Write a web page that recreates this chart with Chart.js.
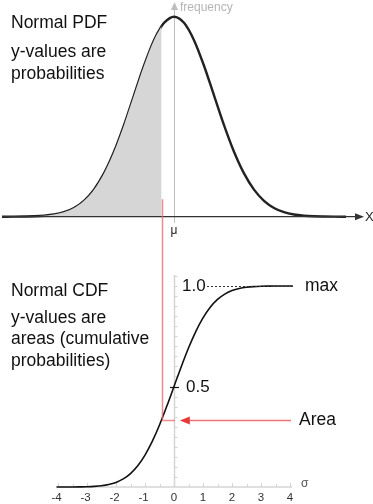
<!DOCTYPE html>
<html>
<head>
<meta charset="utf-8">
<script src="https://cdn.jsdelivr.net/npm/chart.js@4/dist/chart.umd.min.js"></script>
<style>
html,body{margin:0;padding:0;background:#fff;}
#wrap{position:relative;width:373px;height:504px;}
</style>
</head>
<body>
<div id="wrap"><canvas id="c"></canvas></div>
<script>
// ---- data ----
// Top panel: normal PDF (x in sigma units of the top panel)
const pdfX = [-4.3,-4,-3.75,-3.5,-3.25,-3,-2.75,-2.5,-2.25,-2,-1.75,-1.5,-1.25,-1,-0.75,-0.5,-0.31,-0.25,0,0.25,0.5,0.75,1,1.25,1.5,1.75,2,2.25,2.5,2.75,3,3.25,3.5,3.75,4,4.3];
const pdfY = [0,0.0001,0.0004,0.0009,0.0020,0.0044,0.0091,0.0175,0.0317,0.0540,0.0863,0.1295,0.1826,0.2420,0.3011,0.3521,0.3802,0.3867,0.3989,0.3867,0.3521,0.3011,0.2420,0.1826,0.1295,0.0863,0.0540,0.0317,0.0175,0.0091,0.0044,0.0020,0.0009,0.0004,0.0001,0];
const shadeLimit = -0.31;
// Bottom panel: normal CDF
const cdfX = [-4.05,-3.75,-3.5,-3.25,-3,-2.75,-2.5,-2.25,-2,-1.75,-1.5,-1.25,-1,-0.75,-0.5,-0.25,0,0.25,0.5,0.75,1,1.25,1.5,1.75,2,2.25,2.5,2.75,3,3.25,3.5,3.75,4.1];
const cdfY = [0,0.0001,0.0002,0.0006,0.0013,0.0030,0.0062,0.0122,0.0228,0.0401,0.0668,0.1056,0.1587,0.2266,0.3085,0.4013,0.5,0.5987,0.6915,0.7734,0.8413,0.8944,0.9332,0.9599,0.9772,0.9878,0.9938,0.9970,0.9987,0.9994,0.9998,0.9999,1.0];
const xTickLabels = ['-4','-3','-2','-1','0','1','2','3','4'];
const xTickValues = [-4,-3,-2,-1,0,1,2,3,4];
const yLabels = ['1.0','0.5'];
const yLabelValues = [1.0,0.5];
const markX = -0.43;      // red line position
const areaValue = 0.334;  // CDF value at markX
const redTopPdf = 0.035;  // where red line starts in the top panel

const pdfPts = pdfX.map((x,i)=>({x, y:pdfY[i]}));
const shadePts = pdfPts.filter(p=>p.x<=shadeLimit);
const cdfPts = cdfX.map((x,i)=>({x, y:cdfY[i]}));

const FONT = '"Liberation Sans", Arial, Helvetica, sans-serif';
const BIG = '17.5px ' + FONT;

const overlay = {
  id:'overlay',
  beforeDatasetsDraw(chart){
    const ctx = chart.ctx, s = chart.scales;
    const x = s.x, xt = s.xTop, yp = s.yPdf, yc = s.yCdf;
    ctx.save();
    // bottom x axis (light gray)
    const y0 = yc.getPixelForValue(0);
    ctx.strokeStyle = '#d4d4d4'; ctx.lineWidth = 1.5;
    ctx.beginPath(); ctx.moveTo(x.getPixelForValue(-4.05), y0); ctx.lineTo(x.getPixelForValue(4.07), y0); ctx.stroke();
    ctx.lineWidth = 1;
    for (let v=-4; v<=4.001; v+=0.5){
      const px = Math.round(x.getPixelForValue(v))+0.5;
      ctx.beginPath(); ctx.moveTo(px, y0); ctx.lineTo(px, y0 - (Number.isInteger(v)?4:3)); ctx.stroke();
    }
    // bottom y axis
    const ax = x.getPixelForValue(0)+0.5;
    ctx.lineWidth = 1.5;
    ctx.beginPath(); ctx.moveTo(ax, y0); ctx.lineTo(ax, yc.getPixelForValue(1.055)); ctx.stroke();
    ctx.lineWidth = 1;
    for (let v=0.05; v<=1.051; v+=0.05){
      const py = Math.round(yc.getPixelForValue(v))+0.5;
      ctx.beginPath(); ctx.moveTo(ax, py); ctx.lineTo(ax+3, py); ctx.stroke();
    }
    // top: mean line with arrow
    const mx = Math.round(xt.getPixelForValue(0))+0.5;
    const ypz = yp.getPixelForValue(0);
    ctx.strokeStyle = '#bdbdbd'; ctx.fillStyle = '#bdbdbd'; ctx.lineWidth = 1;
    ctx.beginPath(); ctx.moveTo(mx, 8); ctx.lineTo(mx, ypz+6); ctx.stroke();
    ctx.beginPath(); ctx.moveTo(mx, 2); ctx.lineTo(mx-3.5, 10); ctx.lineTo(mx+3.5, 10); ctx.closePath(); ctx.fill();
    ctx.restore();
  },
  afterDatasetsDraw(chart){
    const ctx = chart.ctx, s = chart.scales;
    const x = s.x, xt = s.xTop, yp = s.yPdf, yc = s.yCdf;
    ctx.save();
    // top x axis with arrow
    const ypz = yp.getPixelForValue(0);
    ctx.strokeStyle = '#333'; ctx.fillStyle = '#333'; ctx.lineWidth = 1.2;
    ctx.beginPath(); ctx.moveTo(2, ypz); ctx.lineTo(357, ypz); ctx.stroke();
    ctx.beginPath(); ctx.moveTo(364, ypz); ctx.lineTo(355, ypz-3.5); ctx.lineTo(355, ypz+3.5); ctx.closePath(); ctx.fill();
    ctx.textBaseline = 'middle'; ctx.textAlign = 'left';
    ctx.font = '13px '+FONT; ctx.fillStyle = '#222';
    ctx.fillText('X', 365, ypz+1);
    ctx.textAlign = 'center'; ctx.font = '12px '+FONT;
    ctx.fillText('μ', xt.getPixelForValue(0), ypz+14);
    // frequency
    ctx.textAlign = 'left'; ctx.fillStyle = '#b5b5b5'; ctx.font = '12px '+FONT;
    ctx.fillText('frequency', xt.getPixelForValue(0)+6, 8);

    // left texts
    ctx.fillStyle = '#111'; ctx.font = BIG; ctx.textAlign = 'left';
    ctx.fillText('Normal PDF', 11, 23);
    ctx.fillText('y-values are', 11, 52);
    ctx.fillText('probabilities', 11, 74);
    ctx.fillText('Normal CDF', 11, 291);
    ctx.fillText('y-values are', 11, 318);
    ctx.fillText('areas (cumulative', 11, 339.5);
    ctx.fillText('probabilities)', 11, 361);

    // red vertical & horizontal lines
    const rx = Math.round(x.getPixelForValue(markX))+0.5;
    const ry = Math.round(yc.getPixelForValue(areaValue))+0.5;
    ctx.strokeStyle = 'rgba(236,100,100,0.75)'; ctx.lineWidth = 1.5;
    ctx.beginPath(); ctx.moveTo(rx, yp.getPixelForValue(redTopPdf)); ctx.lineTo(rx, ry); ctx.lineTo(x.getPixelForValue(0)+1, ry); ctx.stroke();
    // arrow to "Area"
    ctx.strokeStyle = 'rgba(236,90,90,0.85)'; ctx.lineWidth = 1.3;
    ctx.beginPath(); ctx.moveTo(x.getPixelForValue(0.45), ry); ctx.lineTo(291, ry); ctx.stroke();
    ctx.fillStyle = '#e53a3a';
    const tip = x.getPixelForValue(0.2);
    ctx.beginPath(); ctx.moveTo(tip, ry); ctx.lineTo(tip+10, ry-4); ctx.lineTo(tip+10, ry+4); ctx.closePath(); ctx.fill();
    ctx.fillStyle = '#111'; ctx.font = BIG;
    ctx.fillText('Area', 299, ry);

    // y labels
    const ax = x.getPixelForValue(0);
    ctx.font = '17px '+FONT; ctx.fillStyle = '#111';
    const p1 = yc.getPixelForValue(yLabelValues[0]);
    ctx.fillText(yLabels[0], ax+8, p1);
    const p5 = yc.getPixelForValue(yLabelValues[1]);
    ctx.fillText(yLabels[1], ax+12, p5+1);
    // 0.5 tick
    ctx.strokeStyle = '#111'; ctx.lineWidth = 1.2;
    ctx.beginPath(); ctx.moveTo(ax-4, Math.round(p5)+0.5); ctx.lineTo(ax+5, Math.round(p5)+0.5); ctx.stroke();
    // dashed line to max
    ctx.setLineDash([2,2]); ctx.lineWidth = 1; ctx.strokeStyle = '#333';
    ctx.beginPath(); ctx.moveTo(ax+33, Math.round(p1)+0.5); ctx.lineTo(x.getPixelForValue(4.1), Math.round(p1)+0.5); ctx.stroke();
    ctx.setLineDash([]);
    ctx.font = BIG;
    ctx.fillText('max', 305, p1);

    // x tick labels
    const y0 = yc.getPixelForValue(0);
    ctx.font = '11.5px '+FONT; ctx.fillStyle = '#333'; ctx.textAlign = 'center';
    xTickValues.forEach((v,i)=>{
      const off = xTickLabels[i].startsWith('-') ? -1.5 : 0;
      ctx.fillText(xTickLabels[i], x.getPixelForValue(v)+off, y0+11);
    });
    ctx.textAlign = 'left'; ctx.fillStyle = '#555'; ctx.font = '12px '+FONT;
    ctx.fillText('σ', 301, y0-3);
    ctx.restore();
  }
};

new Chart(document.getElementById('c'), {
  type:'line',
  data:{
    datasets:[
      {data:shadePts, xAxisID:'xTop', yAxisID:'yPdf', fill:'origin', backgroundColor:'#d6d6d6', borderWidth:0, pointRadius:0, cubicInterpolationMode:'monotone'},
      {data:pdfPts, xAxisID:'xTop', yAxisID:'yPdf', fill:false, borderColor:'#222', borderWidth:2.4, pointRadius:0, cubicInterpolationMode:'monotone'},
      {data:cdfPts, xAxisID:'x', yAxisID:'yCdf', fill:false, borderColor:'#111', borderWidth:1.6, pointRadius:0, cubicInterpolationMode:'monotone'}
    ]
  },
  options:{
    responsive:true, maintainAspectRatio:false, animation:false,
    layout:{padding:0},
    plugins:{legend:{display:false}, tooltip:{enabled:false}},
    scales:{
      x:{type:'linear', axis:'x', display:false, min:-6.0, max:6.862},
      xTop:{type:'linear', axis:'x', display:false, min:-4.35, max:4.975},
      yPdf:{type:'linear', axis:'y', display:false, min:-0.573, max:0.4322},
      yCdf:{type:'linear', axis:'y', display:false, min:-0.0846, max:2.423}
    }
  },
  plugins:[overlay]
});
</script>
</body>
</html>
